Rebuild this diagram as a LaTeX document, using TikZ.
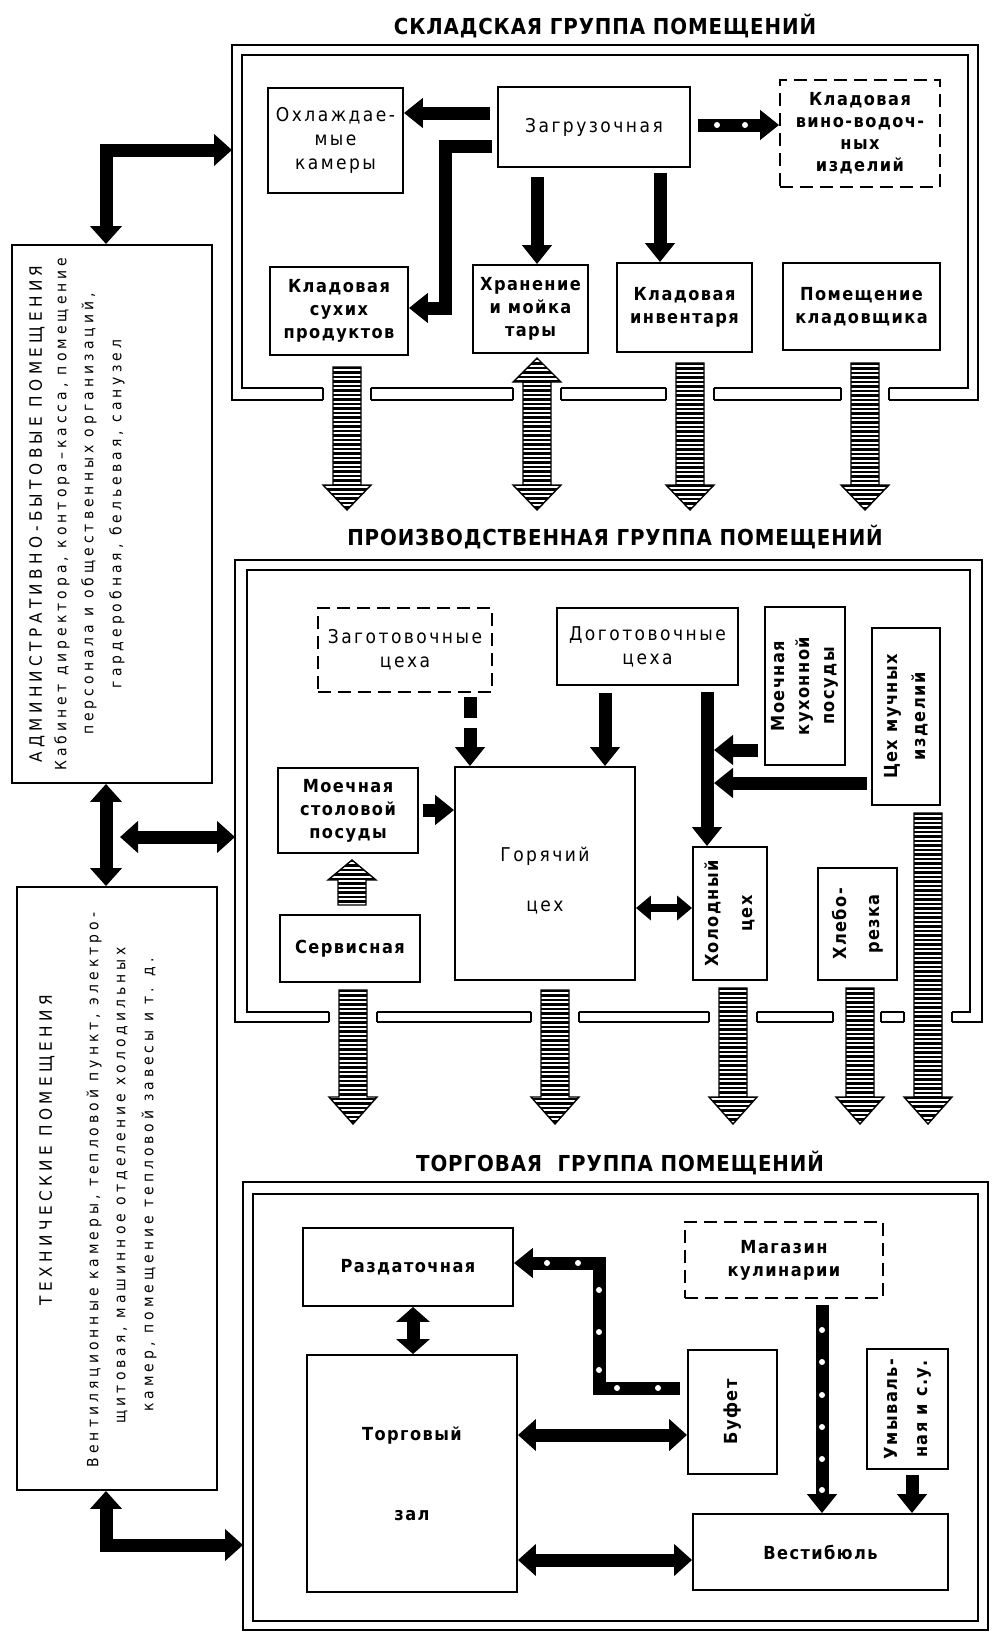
\documentclass[tikz,border=0pt]{standalone}
\usepackage{fontspec}
\usetikzlibrary{arrows.meta}
\newfontfamily\tfont{DejaVu Sans Condensed Bold}[LetterSpace=4]
\newfontfamily\bfont{DejaVu Sans Condensed Bold}[LetterSpace=8]
\newfontfamily\rfont{DejaVu Sans Condensed}[LetterSpace=13]
\newfontfamily\capfont{DejaVu Sans Condensed}[LetterSpace=26]
\newfontfamily\bodyfont{DejaVu Sans Condensed}[LetterSpace=26]

\newcommand\bx[7]{%
  \pgfmathsetmacro\bxw{#4-#2}%
  \pgfmathsetmacro\bxh{#5-#3}%
  \pgfmathsetmacro\bxx{(#2+#4)/2}%
  \pgfmathsetmacro\bxy{(#3+#5)/2}%
  \node[#6, minimum width=\bxw pt, minimum height=\bxh pt] (#1) at (\bxx,\bxy) {#7};}

\newcommand\wallgap[3]{%
  \fill[white] ({#1-24},{#2-1.5}) rectangle ({#1+24},{#3+1.5});
  \draw[line width=2.1pt] ({#1-24},#2) -- ({#1-24},#3) ({#1+24},#2) -- ({#1+24},#3);}

\newcommand\stripeit[4]{%
  \begin{scope}
    \clip #1;
    \pgfmathsetmacro\stya{#3+1}%
    \pgfmathsetmacro\styb{#3+5.5}%
    \foreach \yy in {\stya,\styb,...,#4}{\draw[line width=2.1pt] ({#2-30},\yy) -- ({#2+30},\yy);}
  \end{scope}}

\newcommand\sarr[4]{%
  \def\sapath{({#1-14},#2) -- ({#1+14},#2) -- ({#1+14},#3) -- ({#1+24},#3) -- (#1,#4) -- ({#1-24},#3) -- ({#1-14},#3) -- cycle}%
  \fill[white] \sapath;
  \pgfmathsetmacro\symin{min(#2,#4)}\pgfmathsetmacro\symax{max(#2,#4)}%
  \stripeit{\sapath}{#1}{\symin}{\symax}%
  \draw[line width=1.4pt] \sapath;}

\newcommand\sarrtwo[5]{%
  \def\sapath{(#1,#2) -- ({#1+24},#3) -- ({#1+14},#3) -- ({#1+14},#4) -- ({#1+24},#4) -- (#1,#5) -- ({#1-24},#4) -- ({#1-14},#4) -- ({#1-14},#3) -- ({#1-24},#3) -- cycle}%
  \fill[white] \sapath;
  \stripeit{\sapath}{#1}{#2}{#5}%
  \draw[line width=1.4pt] \sapath;}

\begin{document}
\begin{tikzpicture}[x=1pt,y=-1pt, line join=miter,
  box/.style={draw, line width=1.9pt, inner sep=0pt, align=center},
  dbox/.style={box, dash pattern=on 13pt off 7pt},
  bt/.style={font=\bfont\fontsize{18}{23}\selectfont, align=center},
  rt/.style={font=\rfont\fontsize{19}{24}\selectfont, align=center},
  ttl/.style={font=\tfont\fontsize{22}{26}\selectfont},
  sidecap/.style={font=\capfont\fontsize{17}{20}\selectfont, rotate=90},
  sidebody/.style={font=\bodyfont\fontsize{15.5}{18}\selectfont, rotate=90},
  barr/.style={line width=13pt, -{Triangle[length=19pt,width=29pt]}},
  barrtwo/.style={line width=13pt, {Triangle[length=18pt,width=31pt]}-{Triangle[length=18pt,width=31pt]}},
  smalltwo/.style={line width=8pt, {Triangle[length=15pt,width=24pt]}-{Triangle[length=15pt,width=24pt]}},
  fr/.style={line width=2.1pt}]
\useasboundingbox (0,0) rectangle (998,1646);
\fill[white] (0,0) rectangle (998,1646);

% ---------- titles
\node[ttl] (t1) at (605,26) {СКЛАДСКАЯ ГРУППА ПОМЕЩЕНИЙ};
\node[ttl] (t2) at (615,537) {ПРОИЗВОДСТВЕННАЯ ГРУППА ПОМЕЩЕНИЙ};
\node[ttl] (t3) at (620,1163) {ТОРГОВАЯ\ \ ГРУППА ПОМЕЩЕНИЙ};

% ---------- frames
\draw[fr] (232,45) rectangle (978,400);
\draw[fr] (242,55) rectangle (968,388);
\foreach \g in {347,537,690,865} {\wallgap{\g}{388}{400}}

\draw[fr] (235,560) rectangle (982,1022);
\draw[fr] (247,570) rectangle (970,1012);
\foreach \g in {353,555,733,857,928} {\wallgap{\g}{1012}{1022}}

\draw[fr] (243,1182) rectangle (988,1630);
\draw[fr] (253,1194) rectangle (978,1621);

% ---------- storage group
\bx{ohl}{268}{88}{403}{193}{box,rt}{Охлаждае-\\мые\\камеры}
\bx{zagr}{498}{87}{690}{167}{box,rt}{Загрузочная}
\bx{vino}{780}{80}{940}{187}{dbox,bt,font=\bfont\fontsize{18}{22}\selectfont}{Кладовая\\вино-водоч-\\ных\\изделий}
\bx{kss}{270}{267}{408}{355}{box,bt}{Кладовая\\сухих\\продуктов}
\bx{hran}{473}{265}{588}{353}{box,bt}{Хранение\\и мойка\\тары}
\bx{inv}{617}{263}{752}{352}{box,bt}{Кладовая\\инвентаря}
\bx{klad}{783}{263}{940}{350}{box,bt}{Помещение\\кладовщика}

\draw[barr] (490,113) -- (ohl.east |- 0,113);
\draw[barr] (492,146) -- (445,146) -- (445,308) -- (kss.east |- 0,308);
\draw[barr] (537,177) -- (hran.north -| 537,0);
\draw[barr] (660,173) -- (inv.north -| 660,0);
\draw[barr] (698,125) -- (vino.west |- 0,125);
\fill[white] (717,125) circle (3) (745,125) circle (3);

\sarr{347}{367}{485}{510}
\sarrtwo{537}{358}{382}{485}{510}
\sarr{690}{363}{485}{510}
\sarr{865}{363}{485}{510}

% ---------- production group
\bx{zag}{318}{608}{492}{692}{dbox,rt}{Заготовочные\\цеха}
\bx{dog}{557}{608}{738}{685}{box,rt}{Доготовочные\\цеха}
\bx{mkp}{765}{607}{845}{765}{box}{}
\node[bt, rotate=90, font=\bfont\fontsize{18}{25}\selectfont] (mkpT) at (mkp.center) {Моечная\\кухонной\\посуды};
\bx{muk}{872}{628}{940}{805}{box}{}
\node[bt, rotate=90, font=\bfont\fontsize{18}{28}\selectfont] (mukT) at (muk.center) {Цех мучных\\изделий};
\bx{msp}{278}{768}{418}{853}{box,bt}{Моечная\\столовой\\посуды}
\bx{gor}{455}{767}{635}{980}{box}{}
\node[rt, font=\rfont\fontsize{19}{50}\selectfont] (gorT) at ([yshift=-7pt]gor.center) {Горячий\\цех};
\bx{hol}{693}{847}{767}{980}{box}{}
\node[bt, rotate=90, font=\bfont\fontsize{18}{34}\selectfont] (holT) at (hol.center) {Холодный\\цех};
\bx{hleb}{818}{868}{897}{980}{box}{}
\node[bt, rotate=90, font=\bfont\fontsize{18}{33}\selectfont] (hlebT) at (hleb.center) {Хлебо-\\резка};
\bx{serv}{280}{915}{420}{982}{box,bt}{Сервисная}

\draw[barr, dash pattern=on 21pt off 10pt] (470,697) -- (gor.north -| 470,0);
\draw[barr] (605,693) -- (gor.north -| 605,0);
\draw[barr] (707,692) -- (hol.north -| 707,0);
\draw[barr] (758,750) -- (714,750);
\draw[barr] (867,783) -- (714,783);
\draw[smalltwo] (gor.east |- 0,908) -- (hol.west |- 0,908);
\draw[barr] (423,810) -- (gor.west |- 0,810);

\sarr{352}{905}{880}{860}
\sarr{353}{990}{1097}{1124}
\sarr{555}{990}{1097}{1124}
\sarr{733}{988}{1097}{1124}
\sarr{860}{988}{1097}{1124}
\sarr{928}{813}{1097}{1124}

% ---------- trade group
\bx{razd}{303}{1228}{513}{1306}{box,bt}{Раздаточная}
\bx{tz}{307}{1355}{517}{1592}{box,bt,font=\bfont\fontsize{18}{80}\selectfont}{Торговый\\зал}
\bx{mag}{685}{1222}{883}{1298}{dbox,bt}{Магазин\\кулинарии}
\bx{buf}{688}{1350}{777}{1474}{box}{}
\node[bt, rotate=90] (bufT) at (buf.center) {Буфет};
\bx{umyv}{867}{1349}{948}{1469}{box}{}
\node[bt, rotate=90, font=\bfont\fontsize{18}{30}\selectfont] (umyvT) at (umyv.center) {Умываль-\\ная и с.у.};
\bx{vest}{693}{1514}{948}{1590}{box,bt}{Вестибюль}

\draw[barrtwo, {Triangle[length=15pt,width=33pt]}-{Triangle[length=15pt,width=33pt]}] (razd.south -| 413,0) -- (tz.north -| 413,0);
\draw[barrtwo] (tz.east |- 0,1435) -- (buf.west |- 0,1435);
\draw[barrtwo] (tz.east |- 0,1560) -- (vest.west |- 0,1560);
\draw[barr] (680,1388) -- (599,1388) -- (599,1263) -- (razd.east |- 0,1263);
\fill[white] (658,1388) circle (3) (617,1388) circle (3) (599,1370) circle (3) (599,1332) circle (3) (599,1290) circle (3) (578,1263) circle (3) (547,1263) circle (3);
\draw[barr] (822,1305) -- (vest.north -| 822,0);
\foreach \dy in {1330,1362,1395,1427,1459,1490} {\fill[white] (822,\dy) circle (3);}
\draw[barr] (912,1475) -- (vest.north -| 912,0);

% ---------- side blocks
\bx{adm}{12}{245}{212}{783}{box}{}
\node[sidecap] (admA) at (37,514) {АДМИНИСТРАТИВНО-БЫТОВЫЕ ПОМЕЩЕНИЯ};
\node[sidebody] (admB) at (62,514) {Кабинет директора, контора–касса, помещение};
\node[sidebody] (admC) at (89,514) {персонала и общественных организаций,};
\node[sidebody] (admD) at (117,514) {гардеробная, бельевая, санузел};

\bx{tech}{17}{887}{217}{1490}{box}{}
\node[sidecap] (techA) at (47,1150) {ТЕХНИЧЕСКИЕ ПОМЕЩЕНИЯ};
\node[sidebody] (techB) at (94,1190) {Вентиляционные камеры, тепловой пункт, электро-};
\node[sidebody] (techC) at (122,1185) {щитовая, машинное отделение холодильных};
\node[sidebody] (techD) at (149,1185) {камер, помещение тепловой завесы и т. д.};

\coordinate (f1w) at (232,150);
\coordinate (f2w) at (235,837);
\coordinate (f3w) at (243,1545);
\draw[barrtwo] (adm.north -| 106,0) |- (f1w);
\draw[barrtwo] (adm.south -| 106,0) -- (tech.north -| 106,0);
\draw[barrtwo] (120,837) -- (f2w);
\draw[barrtwo] (tech.south -| 106,0) |- (f3w);
\end{tikzpicture}
\end{document}
